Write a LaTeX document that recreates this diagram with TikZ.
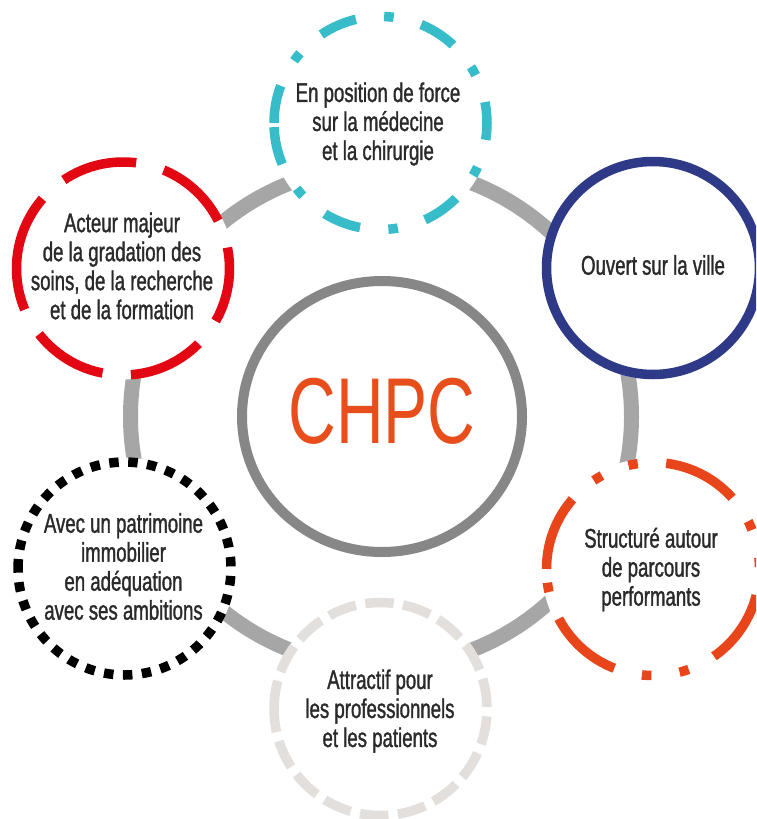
\documentclass[tikz,border=0pt]{standalone}
\usepackage{fontspec}
\usetikzlibrary{shapes.geometric}
\newfontfamily\bodyfont{Liberation Sans}[FakeStretch=0.69, FakeBold=1.2]
\newfontfamily\chpcfont{Liberation Sans}[FakeStretch=0.705]
\definecolor{cyanc}{HTML}{37BDC9}
\definecolor{redc}{HTML}{E30613}
\definecolor{navyc}{HTML}{2E3A87}
\definecolor{orangec}{HTML}{E8461A}
\definecolor{lightgrayc}{HTML}{E2DFDD}
\definecolor{ringgray}{HTML}{A6A6A6}
\definecolor{coregray}{HTML}{878787}
\definecolor{textgray}{HTML}{2A2A2A}
\definecolor{chpcorange}{HTML}{E84E1B}
\begin{document}
\begin{tikzpicture}[x=1pt,y=1pt,
  bubble/.style={circle, inner sep=0pt, minimum size=222pt, fill=white},
  outline/.style={line width=9.5pt, line cap=butt},
  label/.style={font=\bodyfont\fontsize{27}{29}\selectfont, text=textgray, align=center, inner sep=0pt},
]
\useasboundingbox (0,0) rectangle (756,-819);
\clip (0,0) rectangle (756,-819);
\fill[white] (0,0) rectangle (756,-819);

% grey ring behind the bubbles
\node[circle, inner sep=0pt, minimum size=501pt, draw=ringgray, line width=15pt] (ring) at (381,-416.5) {};

% central circle
\node[ellipse, inner sep=0pt, minimum width=280pt, minimum height=271pt, draw=coregray, line width=10pt, fill=white] (core) at (382,-416.5) {};
\node[font=\chpcfont\fontsize{93.6}{100}\selectfont, text=chpcorange, inner sep=0pt] (chpc) at (382,-411.5) {CHPC};

% bubbles
\node[bubble] (c1) at (380.5,-123) {};
\node[bubble] (c2) at (653,-268) {};
\node[bubble] (c3) at (653,-569) {};
\node[bubble] (c4) at (380.5,-709) {};
\node[bubble] (c5) at (124.5,-568.5) {};
\node[bubble] (c6) at (123,-268.5) {};

% outlines (start at the left point, run clockwise)
\draw[outline, draw=cyanc, dash pattern=on 38pt off 28.5pt on 9.5pt off 28.5pt]
  ([shift={(180:106.5pt)}]c1.center) arc[start angle=180, end angle=-180, radius=106.5pt];
\draw[outline, draw=navyc]
  ([shift={(180:106.5pt)}]c2.center) arc[start angle=180, end angle=-180, radius=106.5pt];
\draw[outline, draw=orangec, dash pattern=on 76pt off 28.5pt on 9.5pt off 28.5pt on 9.5pt off 28.5pt]
  ([shift={(180:106.5pt)}]c3.center) arc[start angle=180, end angle=-180, radius=106.5pt];
\draw[outline, draw=lightgrayc, dash pattern=on 28.5pt off 9.5pt]
  ([shift={(180:106.5pt)}]c4.center) arc[start angle=180, end angle=-180, radius=106.5pt];
\draw[outline, draw=black, dash pattern=on 9.5pt off 9.5pt]
  ([shift={(180:106.5pt)}]c5.center) arc[start angle=180, end angle=-180, radius=106.5pt];
\draw[outline, draw=redc, dash pattern=on 76pt off 28.5pt]
  ([shift={(180:106.5pt)}]c6.center) arc[start angle=180, end angle=-180, radius=106.5pt];

% labels
\node[label] (t1) at (378,-124) {En position de force\\sur la médecine\\et la chirurgie};
\node[label] (t2) at (653,-265) {Ouvert sur la ville};
\node[label] (t3) at (651,-569.5) {Structuré autour\\de parcours\\performants};
\node[label] (t4) at (380,-711) {Attractif pour\\les professionnels\\et les patients};
\node[label] (t5) at (123.5,-566.5) {Avec un patrimoine\\immobilier\\en adéquation\\avec ses ambitions};
\node[label] (t6) at (122,-266) {Acteur majeur\\de la gradation des\\soins, de la recherche\\et de la formation};
\end{tikzpicture}
\end{document}
